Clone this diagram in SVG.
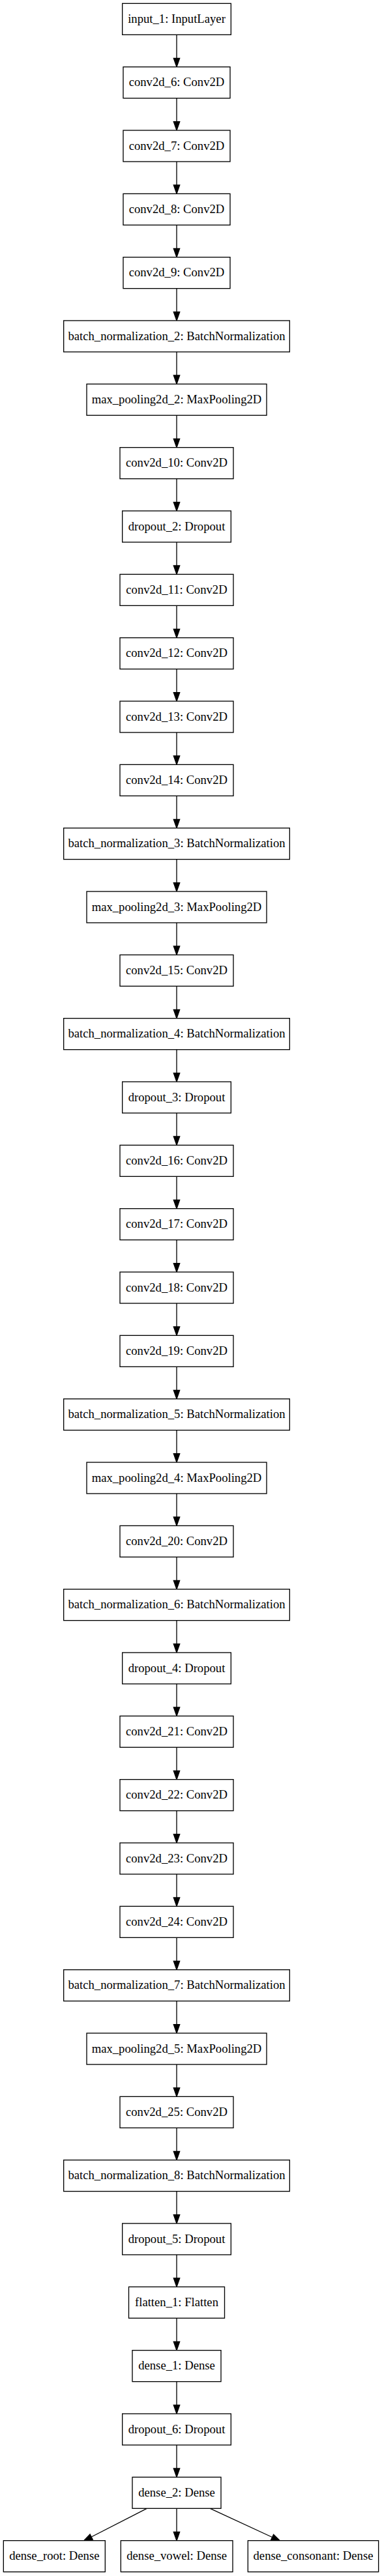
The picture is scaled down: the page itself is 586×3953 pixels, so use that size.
<svg xmlns="http://www.w3.org/2000/svg" width="586" height="3953" viewBox="0 0 586 3953">
<style>
.n rect{fill:#fff;stroke:#000;stroke-width:1.33}
.n text{font-family:"Liberation Serif","Times New Roman",serif;font-size:18.67px;text-anchor:middle;fill:#000}
#edges line{stroke:#000;stroke-width:1.33;marker-end:url(#ah)}
</style>
<defs>
<marker id="ah" markerUnits="userSpaceOnUse" markerWidth="20" markerHeight="14" refX="0" refY="0" viewBox="-1 -7 17 14" orient="auto" overflow="visible">
<path d="M0,-4.67 L13.33,0 L0,4.67 z" fill="#000" stroke="#000" stroke-width="1.33"/>
</marker>
</defs>
<rect width="586" height="3953" fill="#fff"/>
<g id="edges">
<line x1="271" y1="53.33" x2="271" y2="89.33"/>
<line x1="271" y1="150.67" x2="271" y2="186.67"/>
<line x1="271" y1="248" x2="271" y2="284"/>
<line x1="271" y1="345.33" x2="271" y2="381.33"/>
<line x1="271" y1="442.67" x2="271" y2="478.67"/>
<line x1="271" y1="540" x2="271" y2="576"/>
<line x1="271" y1="637.33" x2="271" y2="673.33"/>
<line x1="271" y1="734.67" x2="271" y2="770.67"/>
<line x1="271" y1="832" x2="271" y2="868"/>
<line x1="271" y1="929.33" x2="271" y2="965.33"/>
<line x1="271" y1="1026.67" x2="271" y2="1062.67"/>
<line x1="271" y1="1124" x2="271" y2="1160"/>
<line x1="271" y1="1221.33" x2="271" y2="1257.33"/>
<line x1="271" y1="1318.67" x2="271" y2="1354.67"/>
<line x1="271" y1="1416" x2="271" y2="1452"/>
<line x1="271" y1="1513.33" x2="271" y2="1549.33"/>
<line x1="271" y1="1610.67" x2="271" y2="1646.67"/>
<line x1="271" y1="1708" x2="271" y2="1744"/>
<line x1="271" y1="1805.33" x2="271" y2="1841.33"/>
<line x1="271" y1="1902.67" x2="271" y2="1938.67"/>
<line x1="271" y1="2000" x2="271" y2="2036"/>
<line x1="271" y1="2097.33" x2="271" y2="2133.33"/>
<line x1="271" y1="2194.67" x2="271" y2="2230.67"/>
<line x1="271" y1="2292" x2="271" y2="2328"/>
<line x1="271" y1="2389.33" x2="271" y2="2425.33"/>
<line x1="271" y1="2486.67" x2="271" y2="2522.67"/>
<line x1="271" y1="2584" x2="271" y2="2620"/>
<line x1="271" y1="2681.33" x2="271" y2="2717.33"/>
<line x1="271" y1="2778.67" x2="271" y2="2814.67"/>
<line x1="271" y1="2876" x2="271" y2="2912"/>
<line x1="271" y1="2973.33" x2="271" y2="3009.33"/>
<line x1="271" y1="3070.67" x2="271" y2="3106.67"/>
<line x1="271" y1="3168" x2="271" y2="3204"/>
<line x1="271" y1="3265.33" x2="271" y2="3301.33"/>
<line x1="271" y1="3362.67" x2="271" y2="3398.67"/>
<line x1="271" y1="3460" x2="271" y2="3496"/>
<line x1="271" y1="3557.33" x2="271" y2="3593.33"/>
<line x1="271" y1="3654.67" x2="271" y2="3690.67"/>
<line x1="271" y1="3752" x2="271" y2="3788"/>
<line x1="225.3" y1="3849.33" x2="140.2" y2="3893"/>
<line x1="271" y1="3849.33" x2="271" y2="3885.33"/>
<line x1="322.3" y1="3849.33" x2="417.6" y2="3893.5"/>
</g>
<g id="input_1" class="n"><rect x="187.67" y="5.33" width="166.67" height="48"/><text x="271" y="34.93">input_1: InputLayer</text></g>
<g id="conv2d_6" class="n"><rect x="189" y="102.67" width="164" height="48"/><text x="271" y="132.27">conv2d_6: Conv2D</text></g>
<g id="conv2d_7" class="n"><rect x="189" y="200" width="164" height="48"/><text x="271" y="229.6">conv2d_7: Conv2D</text></g>
<g id="conv2d_8" class="n"><rect x="189" y="297.33" width="164" height="48"/><text x="271" y="326.93">conv2d_8: Conv2D</text></g>
<g id="conv2d_9" class="n"><rect x="189" y="394.67" width="164" height="48"/><text x="271" y="424.27">conv2d_9: Conv2D</text></g>
<g id="batch_normalization_2" class="n"><rect x="97.67" y="492" width="346.67" height="48"/><text x="271" y="521.6">batch_normalization_2: BatchNormalization</text></g>
<g id="max_pooling2d_2" class="n"><rect x="133" y="589.33" width="276" height="48"/><text x="271" y="618.93">max_pooling2d_2: MaxPooling2D</text></g>
<g id="conv2d_10" class="n"><rect x="184" y="686.67" width="174" height="48"/><text x="271" y="716.27">conv2d_10: Conv2D</text></g>
<g id="dropout_2" class="n"><rect x="187.67" y="784" width="166.67" height="48"/><text x="271" y="813.6">dropout_2: Dropout</text></g>
<g id="conv2d_11" class="n"><rect x="184" y="881.33" width="174" height="48"/><text x="271" y="910.93">conv2d_11: Conv2D</text></g>
<g id="conv2d_12" class="n"><rect x="184" y="978.67" width="174" height="48"/><text x="271" y="1008.27">conv2d_12: Conv2D</text></g>
<g id="conv2d_13" class="n"><rect x="184" y="1076" width="174" height="48"/><text x="271" y="1105.6">conv2d_13: Conv2D</text></g>
<g id="conv2d_14" class="n"><rect x="184" y="1173.33" width="174" height="48"/><text x="271" y="1202.93">conv2d_14: Conv2D</text></g>
<g id="batch_normalization_3" class="n"><rect x="97.67" y="1270.67" width="346.67" height="48"/><text x="271" y="1300.27">batch_normalization_3: BatchNormalization</text></g>
<g id="max_pooling2d_3" class="n"><rect x="133" y="1368" width="276" height="48"/><text x="271" y="1397.6">max_pooling2d_3: MaxPooling2D</text></g>
<g id="conv2d_15" class="n"><rect x="184" y="1465.33" width="174" height="48"/><text x="271" y="1494.93">conv2d_15: Conv2D</text></g>
<g id="batch_normalization_4" class="n"><rect x="97.67" y="1562.67" width="346.67" height="48"/><text x="271" y="1592.27">batch_normalization_4: BatchNormalization</text></g>
<g id="dropout_3" class="n"><rect x="187.67" y="1660" width="166.67" height="48"/><text x="271" y="1689.6">dropout_3: Dropout</text></g>
<g id="conv2d_16" class="n"><rect x="184" y="1757.33" width="174" height="48"/><text x="271" y="1786.93">conv2d_16: Conv2D</text></g>
<g id="conv2d_17" class="n"><rect x="184" y="1854.67" width="174" height="48"/><text x="271" y="1884.27">conv2d_17: Conv2D</text></g>
<g id="conv2d_18" class="n"><rect x="184" y="1952" width="174" height="48"/><text x="271" y="1981.6">conv2d_18: Conv2D</text></g>
<g id="conv2d_19" class="n"><rect x="184" y="2049.33" width="174" height="48"/><text x="271" y="2078.93">conv2d_19: Conv2D</text></g>
<g id="batch_normalization_5" class="n"><rect x="97.67" y="2146.67" width="346.67" height="48"/><text x="271" y="2176.27">batch_normalization_5: BatchNormalization</text></g>
<g id="max_pooling2d_4" class="n"><rect x="133" y="2244" width="276" height="48"/><text x="271" y="2273.6">max_pooling2d_4: MaxPooling2D</text></g>
<g id="conv2d_20" class="n"><rect x="184" y="2341.33" width="174" height="48"/><text x="271" y="2370.93">conv2d_20: Conv2D</text></g>
<g id="batch_normalization_6" class="n"><rect x="97.67" y="2438.67" width="346.67" height="48"/><text x="271" y="2468.27">batch_normalization_6: BatchNormalization</text></g>
<g id="dropout_4" class="n"><rect x="187.67" y="2536" width="166.67" height="48"/><text x="271" y="2565.6">dropout_4: Dropout</text></g>
<g id="conv2d_21" class="n"><rect x="184" y="2633.33" width="174" height="48"/><text x="271" y="2662.93">conv2d_21: Conv2D</text></g>
<g id="conv2d_22" class="n"><rect x="184" y="2730.67" width="174" height="48"/><text x="271" y="2760.27">conv2d_22: Conv2D</text></g>
<g id="conv2d_23" class="n"><rect x="184" y="2828" width="174" height="48"/><text x="271" y="2857.6">conv2d_23: Conv2D</text></g>
<g id="conv2d_24" class="n"><rect x="184" y="2925.33" width="174" height="48"/><text x="271" y="2954.93">conv2d_24: Conv2D</text></g>
<g id="batch_normalization_7" class="n"><rect x="97.67" y="3022.67" width="346.67" height="48"/><text x="271" y="3052.27">batch_normalization_7: BatchNormalization</text></g>
<g id="max_pooling2d_5" class="n"><rect x="133" y="3120" width="276" height="48"/><text x="271" y="3149.6">max_pooling2d_5: MaxPooling2D</text></g>
<g id="conv2d_25" class="n"><rect x="184" y="3217.33" width="174" height="48"/><text x="271" y="3246.93">conv2d_25: Conv2D</text></g>
<g id="batch_normalization_8" class="n"><rect x="97.67" y="3314.67" width="346.67" height="48"/><text x="271" y="3344.27">batch_normalization_8: BatchNormalization</text></g>
<g id="dropout_5" class="n"><rect x="187.67" y="3412" width="166.67" height="48"/><text x="271" y="3441.6">dropout_5: Dropout</text></g>
<g id="flatten_1" class="n"><rect x="197.5" y="3509.33" width="147" height="48"/><text x="271" y="3538.93">flatten_1: Flatten</text></g>
<g id="dense_1" class="n"><rect x="203" y="3606.67" width="136" height="48"/><text x="271" y="3636.27">dense_1: Dense</text></g>
<g id="dropout_6" class="n"><rect x="187.67" y="3704" width="166.67" height="48"/><text x="271" y="3733.6">dropout_6: Dropout</text></g>
<g id="dense_2" class="n"><rect x="203" y="3801.33" width="136" height="48"/><text x="271" y="3830.93">dense_2: Dense</text></g>
<g id="dense_root" class="n"><rect x="5.33" y="3898.67" width="156" height="48"/><text x="83.33" y="3928.27">dense_root: Dense</text></g>
<g id="dense_vowel" class="n"><rect x="185.33" y="3898.67" width="171.67" height="48"/><text x="271.17" y="3928.27">dense_vowel: Dense</text></g>
<g id="dense_consonant" class="n"><rect x="380.33" y="3898.67" width="200.33" height="48"/><text x="480.5" y="3928.27">dense_consonant: Dense</text></g>
</svg>
